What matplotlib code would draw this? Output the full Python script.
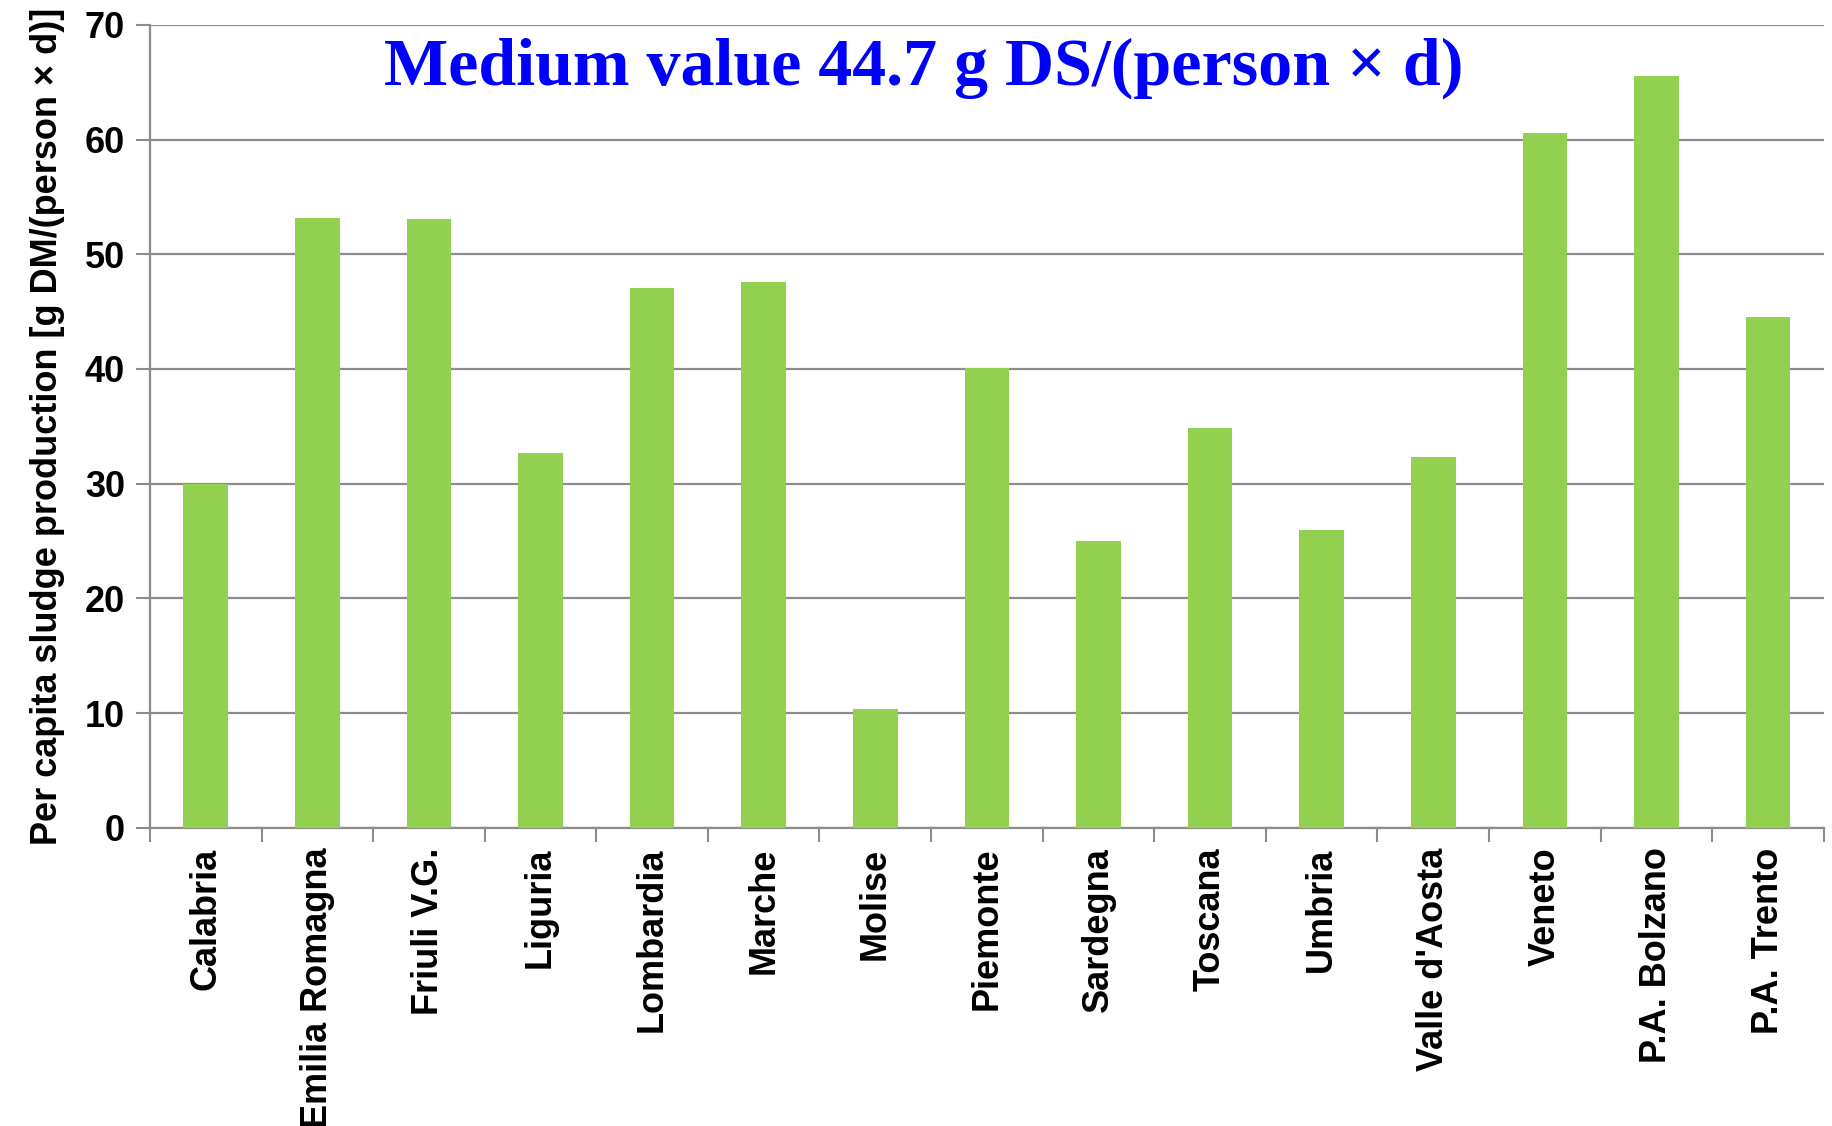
import matplotlib.pyplot as plt
import numpy as np

regions = ["Calabria", "Emilia Romagna", "Friuli V.G.", "Liguria", "Lombardia",
           "Marche", "Molise", "Piemonte", "Sardegna", "Toscana", "Umbria",
           "Valle d'Aosta", "Veneto", "P.A. Bolzano", "P.A. Trento"]
sludge = [30.0, 53.2, 53.1, 32.7, 47.1, 47.6, 10.4, 40.1, 25.0, 34.9, 26.0,
          32.3, 60.6, 65.5, 44.5]
y_ticks = [0, 10, 20, 30, 40, 50, 60, 70]

plt.rcParams['font.family'] = ['Liberation Sans', 'DejaVu Sans']

fig = plt.figure(figsize=(18.33, 11.26), dpi=100)
ax = fig.add_axes([0.0818, 0.2647, 0.9132, 0.7133])

x = np.arange(len(regions))
ax.bar(x, sludge, width=0.4, color="#92D050", zorder=3)

ax.set_xlim(-0.5, len(regions) - 0.5)
ax.set_ylim(0, 70)
ax.set_yticks(y_ticks)
ax.set_yticklabels([str(v) for v in y_ticks], fontsize=26, fontweight="bold")
ax.grid(axis="y", color="#8c8c8c", linewidth=1.6, zorder=0)

# category labels in the middle, tick marks between the categories
ax.set_xticks(x)
ax.set_xticklabels(regions, rotation=90, fontsize=26, fontweight="bold")
ax.set_xticks(np.arange(len(regions) + 1) - 0.5, minor=True)
ax.tick_params(axis="x", which="major", length=0, pad=14)
ax.tick_params(axis="x", which="minor", length=10, width=1.5, color="#8c8c8c")
ax.tick_params(axis="y", length=10, width=1.5, color="#8c8c8c", pad=8)

for side in ["top", "right"]:
    ax.spines[side].set_visible(False)
for side in ["left", "bottom"]:
    ax.spines[side].set_color("#8c8c8c")
    ax.spines[side].set_linewidth(1.6)

ax.set_ylabel("Per capita sludge production [g DM/(person \u00d7 d)]",
              fontsize=26, fontweight="bold", labelpad=14)

ax.text(0.462, 0.946, "Medium value 44.7 g DS/(person \u00d7 d)",
        transform=ax.transAxes, ha="center", va="center",
        fontsize=49, fontweight="bold", color="#0000ff",
        family=["Liberation Serif", "DejaVu Serif"])

fig.savefig("out.png", dpi=100)
